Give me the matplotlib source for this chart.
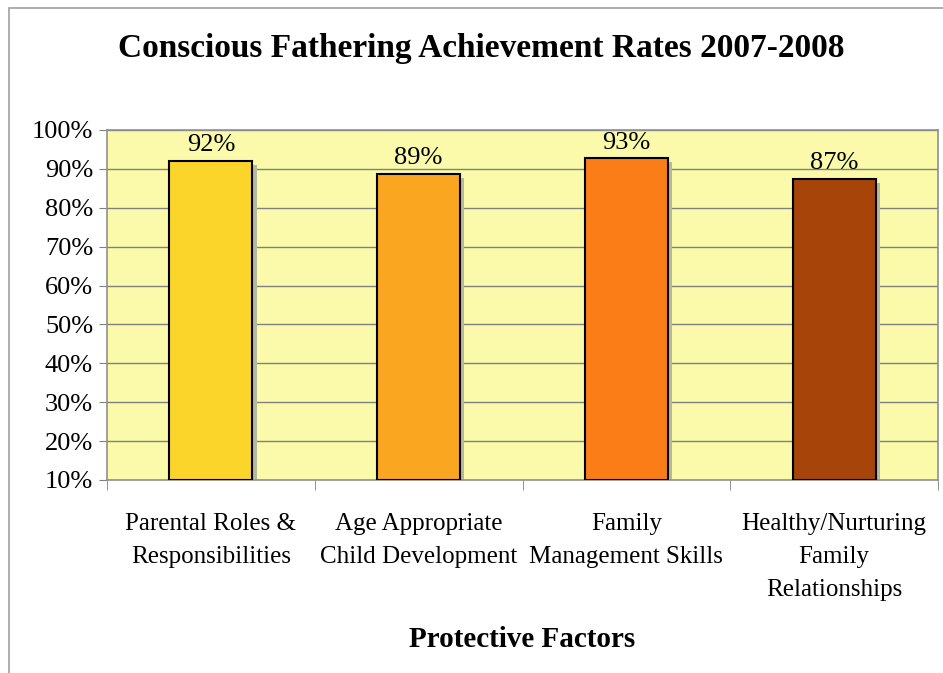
#!/usr/bin/env python3
from matplotlib import pyplot as plt
from matplotlib.patches import Rectangle
import numpy as np

CATEGORIES = ["Parental Roles &\nResponsibilities",
              "Age Appropriate\nChild Development",
              "Family\nManagement Skills",
              "Healthy/Nurturing\nFamily\nRelationships"]
RATES = [92.1, 88.7, 92.7, 87.4]
LABELS = ["92%", "89%", "93%", "87%"]
COLORS = ["#FCD52A", "#FBA621", "#FB7D17", "#A6440A"]
Y_TICKS = list(range(10, 101, 10))

W, H = 943, 673


def main():
    plt.rcParams["font.family"] = ["Liberation Serif", "DejaVu Serif"]
    fig = plt.figure(figsize=(W / 100, H / 100), dpi=100)
    # plot area: x 107..938, y 130..480 (pixels)
    ax = fig.add_axes([107 / W, 1 - 480 / H, (938 - 107) / W, (480 - 130) / H])
    ax.set_facecolor("#FAFAAA")

    # outer frame of the chart object
    fig.patches.append(Rectangle((8.5 / W, -0.1), 2, 1 - 8.5 / H + 0.1,
                                 transform=fig.transFigure, fill=False,
                                 edgecolor="#A0A0A0", linewidth=1.2))

    x = np.arange(len(CATEGORIES))
    width = 0.4
    base = 10
    heights = [r - base for r in RATES]
    # drop shadows
    dx, dy = 0.02, -1.0
    ax.bar(x + dx, heights, width, bottom=base + dy, color="#B8B8A0",
           edgecolor="none", zorder=2)
    ax.bar(x, heights, width, bottom=base, color=COLORS, edgecolor="black",
           linewidth=1.5, zorder=3)
    for xi, r, lab in zip(x, RATES, LABELS):
        ax.text(xi, r + 1.2, lab, ha="center", va="bottom", fontsize=19)

    ax.set_xlim(-0.5, len(CATEGORIES) - 0.5)
    ax.set_ylim(10, 100)
    ax.set_yticks(Y_TICKS)
    ax.set_yticklabels([f"{t}%" for t in Y_TICKS], fontsize=19)
    ax.yaxis.grid(True, color="#808080", linewidth=1.0)
    ax.set_axisbelow(True)
    ax.tick_params(axis="y", length=6, color="#808080", pad=4)

    ax.set_xticks(x)
    ax.set_xticklabels(CATEGORIES, fontsize=18, linespacing=1.65)
    ax.tick_params(axis="x", length=0, pad=24)
    ax.set_xticks(np.arange(len(CATEGORIES) + 1) - 0.5, minor=True)
    ax.tick_params(axis="x", which="minor", length=7, color="#808080")

    for s in ax.spines.values():
        s.set_color("#909090")
        s.set_linewidth(1.2)

    ax.set_xlabel("Protective Factors", fontsize=21, fontweight="bold", labelpad=18)
    fig.text(481 / W, 1 - 48 / H, "Conscious Fathering Achievement Rates 2007-2008",
             ha="center", va="center", fontsize=24, fontweight="bold")

    fig.savefig("out.png", dpi=100)


if __name__ == "__main__":
    main()
